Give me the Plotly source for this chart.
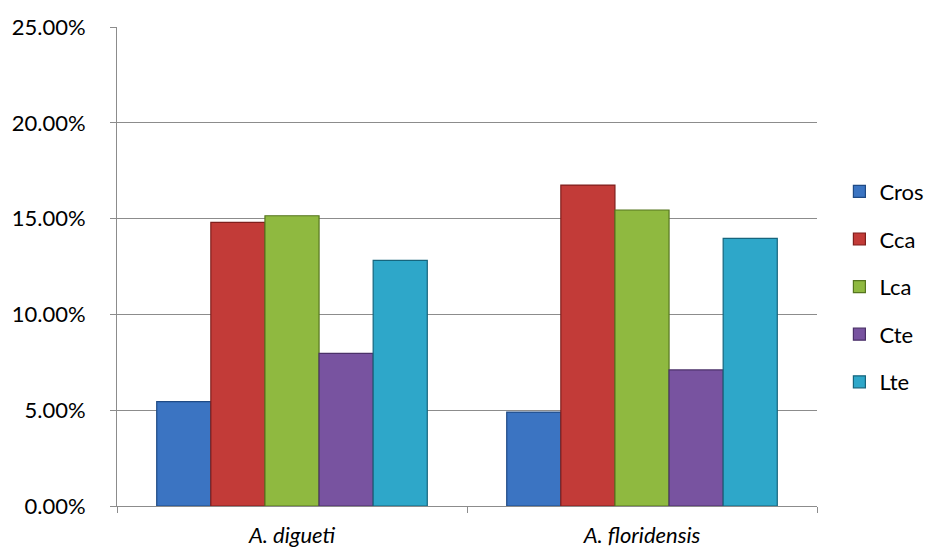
import plotly.graph_objects as go

# Species on the category axis
species = ["<i>A. digueti</i>", "<i>A. floridensis</i>"]

# Share of each measurement per species (fractions)
cros = [0.0545, 0.0490]
cca = [0.1480, 0.1675]
lca = [0.1515, 0.1545]
cte = [0.0797, 0.0710]
lte = [0.1282, 0.1397]

series = [
    ("Cros", cros, "#3b74c2", "#1f4a85"),
    ("Cca", cca, "#c23b38", "#7f1f1d"),
    ("Lca", lca, "#8fb940", "#56761f"),
    ("Cte", cte, "#7853a0", "#4b3169"),
    ("Lte", lte, "#2ea7c9", "#16657d"),
]

FONT = "Lato"
SIZE = 22

fig = go.Figure()
for name, vals, fill, edge in series:
    fig.add_trace(go.Bar(
        x=species, y=vals, name=name, legendgroup=name,
        marker=dict(color=fill, line=dict(color=edge, width=1.2)),
    ))

fig.update_layout(
    width=928, height=554,
    margin=dict(l=117, r=111, t=27, b=48, autoexpand=False),
    paper_bgcolor="white", plot_bgcolor="white",
    barmode="group", bargap=0.227, bargroupgap=0,
    font=dict(family=FONT, size=SIZE, color="#000000"),
    showlegend=True,
    legend=dict(
        x=1.032, y=0.458, xanchor="left", yanchor="middle",
        font=dict(family=FONT, size=SIZE, color="#000000"),
        tracegroupgap=16, itemwidth=30,
        bgcolor="rgba(0,0,0,0)",
    ),
    xaxis=dict(
        showline=True, linecolor="#8c8c8c", linewidth=1,
        ticks="outside", tickson="boundaries", ticklen=6, tickcolor="#8c8c8c",
        showgrid=False, tickfont=dict(family=FONT, size=SIZE),
        ticklabelstandoff=10,
    ),
    yaxis=dict(
        range=[0, 0.25], dtick=0.05, tickformat=".2%",
        showline=True, linecolor="#8c8c8c", linewidth=1,
        ticks="outside", ticklen=6, tickcolor="#8c8c8c",
        showgrid=True, gridcolor="#8c8c8c", gridwidth=1,
        zeroline=False, ticklabelstandoff=20,
        tickfont=dict(family=FONT, size=SIZE),
    ),
)

fig.write_html("out.html")
